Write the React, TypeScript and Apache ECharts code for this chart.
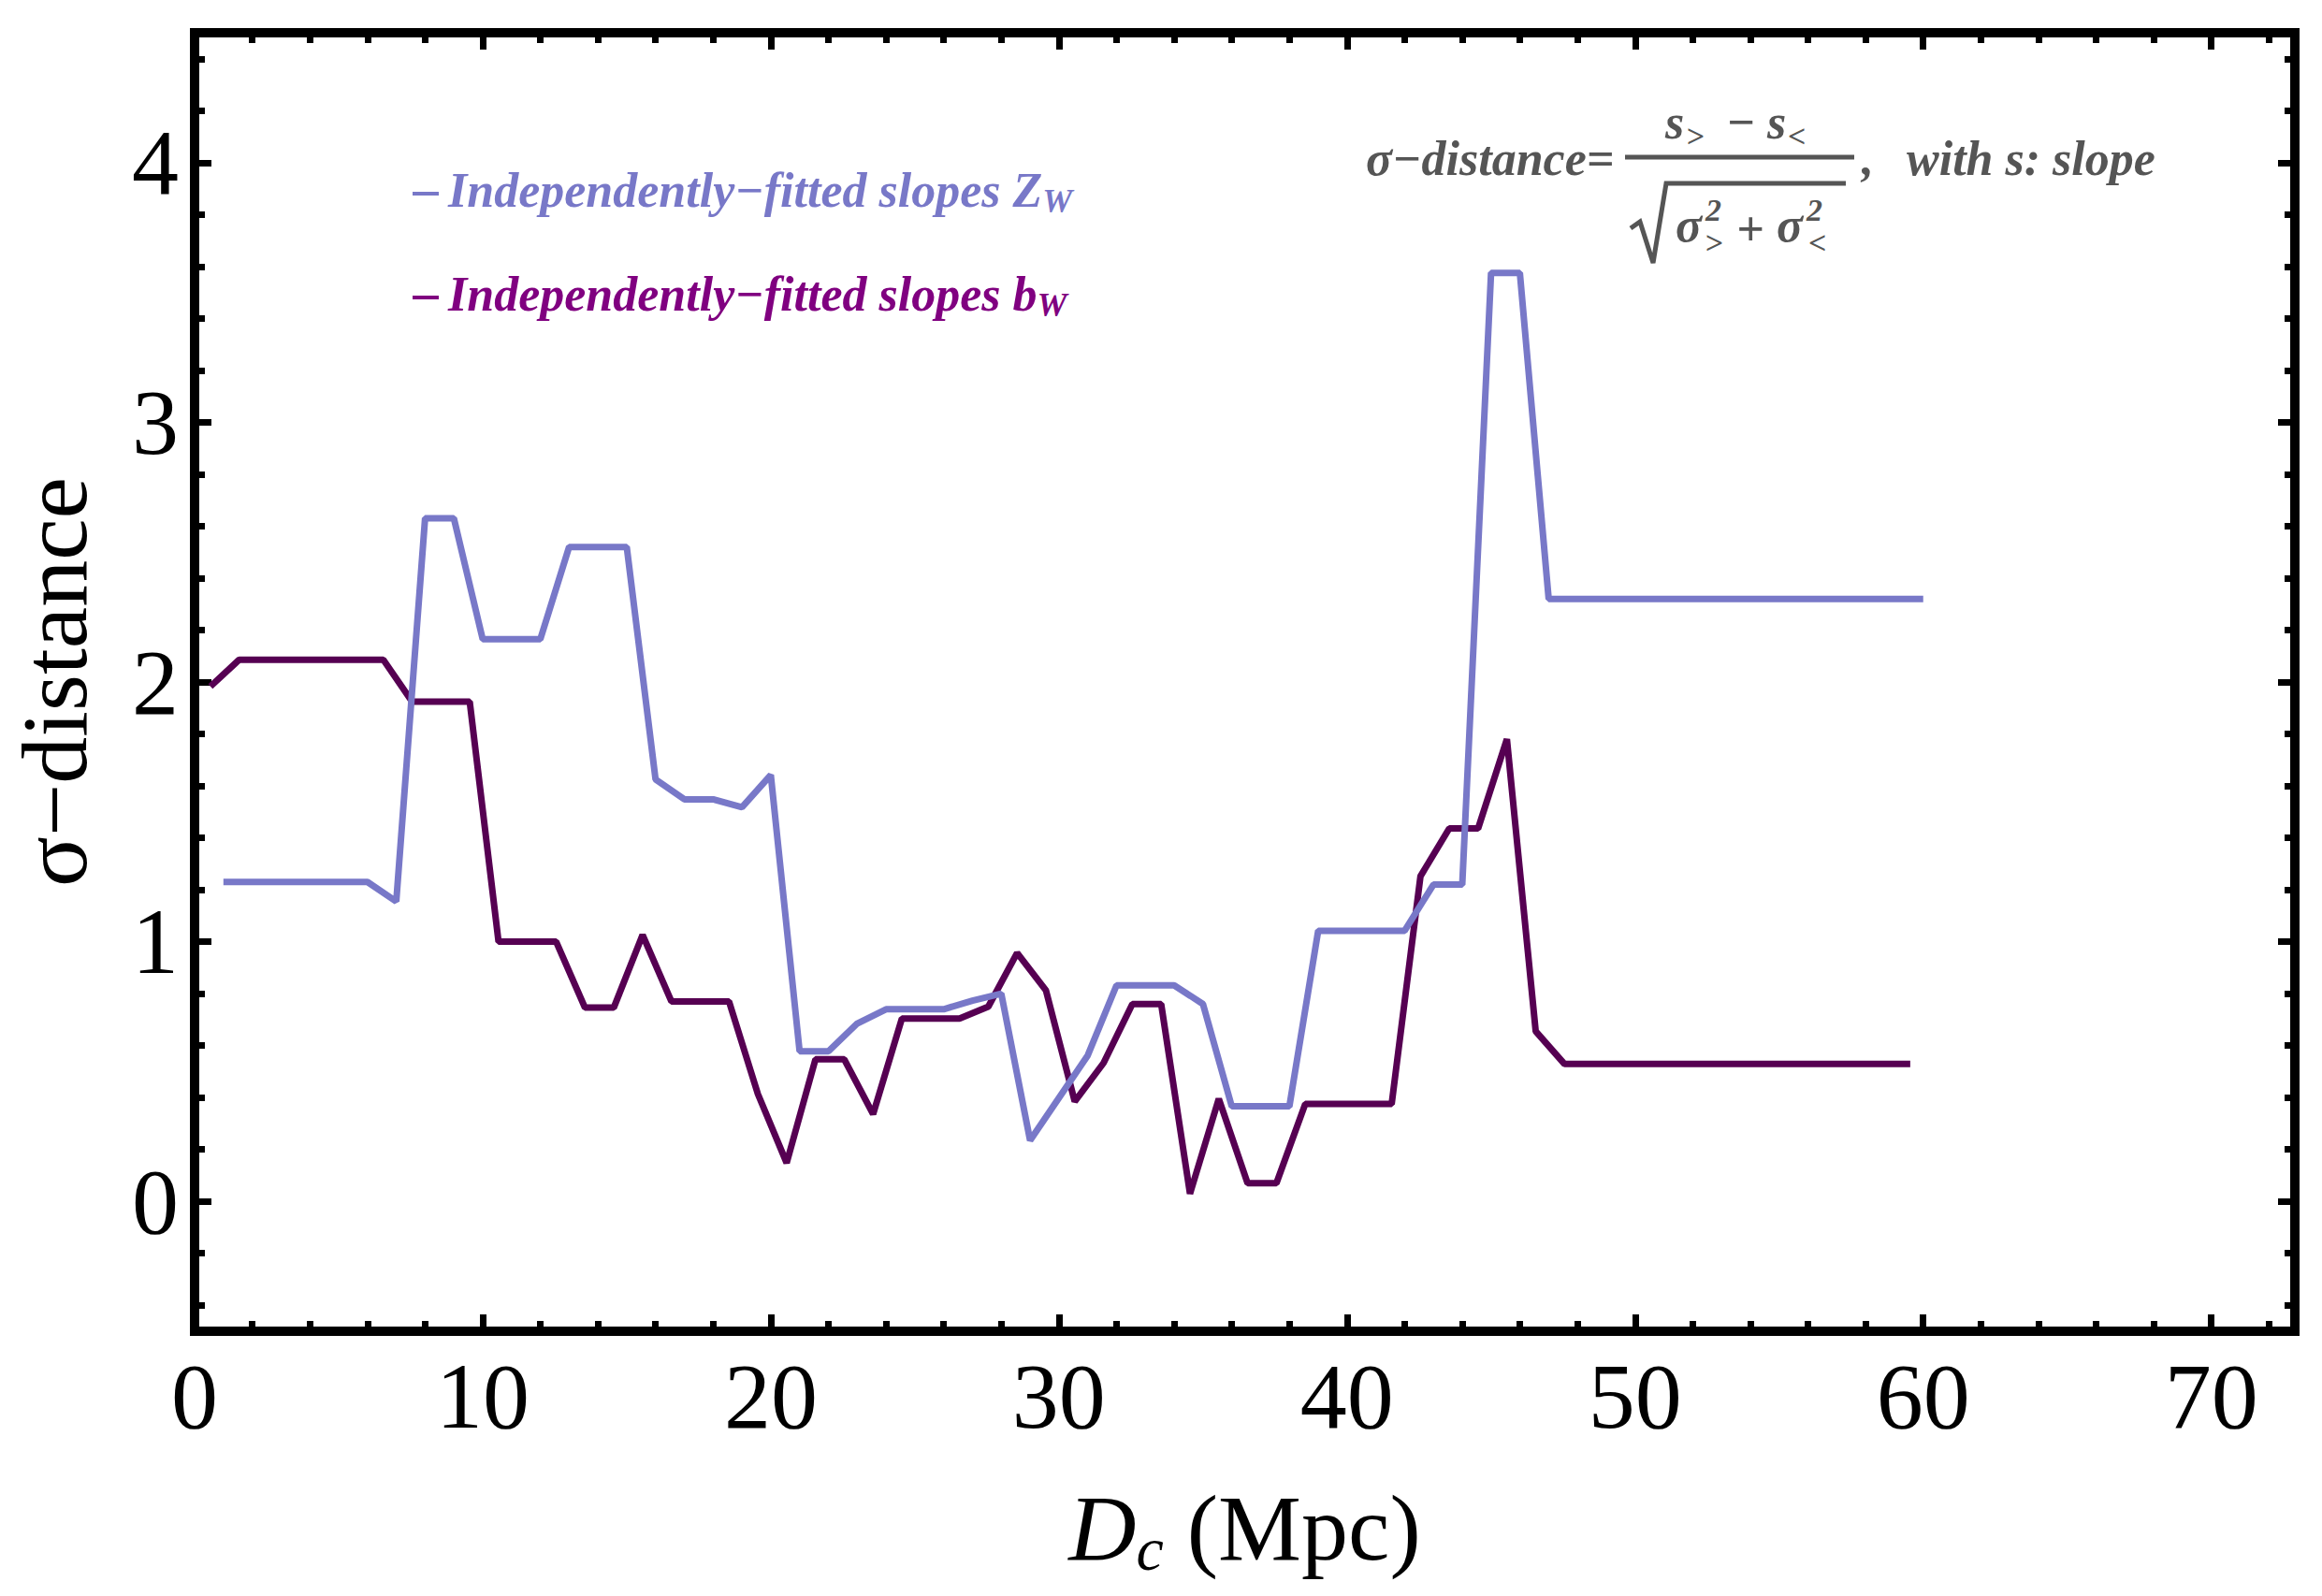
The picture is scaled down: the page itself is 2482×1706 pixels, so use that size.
import React, { useEffect, useRef } from 'react';
import * as echarts from 'echarts';

// sigma-distance vs D_c
const zwX = [1, 6, 7, 8, 9, 10, 12, 13, 15, 16, 17, 18, 19, 20, 21, 22, 23, 24, 26, 27, 28, 29, 31, 32, 34, 35, 36, 38, 39, 42, 43, 44, 45, 46, 47, 60];
const zwY = [1.23, 1.23, 1.155, 2.63, 2.63, 2.165, 2.165, 2.52, 2.52, 1.625, 1.548, 1.548, 1.518, 1.642, 0.578, 0.578, 0.685, 0.74, 0.74, 0.773, 0.8, 0.235, 0.562, 0.832, 0.832, 0.76, 0.366, 0.366, 1.042, 1.042, 1.22, 1.22, 3.575, 3.575, 2.32, 2.32];

const bwX = [0.55, 1.55, 6.55, 7.55, 9.55, 10.55, 12.55, 13.55, 14.55, 15.55, 16.55, 18.55, 19.55, 20.55, 21.55, 22.55, 23.55, 24.55, 26.55, 27.55, 28.55, 29.55, 30.55, 31.55, 32.55, 33.55, 34.55, 35.55, 36.55, 37.55, 38.55, 41.55, 42.55, 43.55, 44.55, 45.55, 46.55, 47.55, 59.55];
const bwY = [1.983, 2.086, 2.086, 1.924, 1.924, 1.0, 1.0, 0.746, 0.746, 1.026, 0.77, 0.77, 0.414, 0.148, 0.547, 0.547, 0.336, 0.704, 0.704, 0.75, 0.957, 0.813, 0.385, 0.533, 0.76, 0.76, 0.03, 0.395, 0.07, 0.07, 0.375, 0.375, 1.252, 1.436, 1.436, 1.78, 0.655, 0.529, 0.529];

const xMajor = [0, 10, 20, 30, 40, 50, 60, 70];
const xMinor = [2, 4, 6, 8, 12, 14, 16, 18, 22, 24, 26, 28, 32, 34, 36, 38, 42, 44, 46, 48, 52, 54, 56, 58, 62, 64, 66, 68, 72];
const yMajor = [0, 1, 2, 3, 4];
const yMinor = [-0.4, -0.2, 0.2, 0.4, 0.6, 0.8, 1.2, 1.4, 1.6, 1.8, 2.2, 2.4, 2.6, 2.8, 3.2, 3.4, 3.6, 3.8, 4.2, 4.4];

const ZW_NAME = 'Independently−fitted slopes Z_W';
const BW_NAME = 'Independently−fitted slopes b_W';

const SERIF = "'Liberation Serif', 'Times New Roman', serif";
const GRAY = '#555555';
const BLUE = '#7878c8';
const PURPLE_LINE = '#560052';
const PURPLE_TEXT = '#800080';

// one axis that only draws a set of inward ticks (plus labels for the major set)
const tickAxis = (
  position: string,
  min: number,
  max: number,
  ticks: number[],
  length: number,
  labels: boolean,
) => ({
  type: 'value',
  position,
  min,
  max,
  axisLine: { show: false, onZero: false },
  splitLine: { show: false },
  axisTick: {
    show: true,
    inside: true,
    length,
    customValues: ticks,
    lineStyle: { color: '#000', width: 7 },
  },
  axisLabel: labels
    ? {
        show: true,
        customValues: ticks,
        margin: position === 'bottom' ? 19 : 17,
        color: '#000',
        fontFamily: SERIF,
        fontSize: 100,
      }
    : { show: false },
});

// small helper for the formula in the upper right
const fText = (text: string, x: number, base: number, size: number) => ({
  type: 'text',
  x,
  y: base - 0.34 * size,
  style: {
    text,
    fill: GRAY,
    font: `italic bold ${size}px ${SERIF}`,
    align: 'left',
    verticalAlign: 'middle',
  },
});

const SigmaDistanceChart: React.FC = () => {
  const chartRef = useRef<HTMLDivElement | null>(null);

  useEffect(() => {
    if (!chartRef.current) return;
    const chart = echarts.init(chartRef.current, undefined, { renderer: 'svg' });

    const xLo = 0;
    const xHi = 72.9;
    const yLo = -0.5;
    const yHi = 4.5;

    const xBottom: any = tickAxis('bottom', xLo, xHi, xMajor, 18, true);
    xBottom.name = '{i|D}{sub|c} (Mpc)';
    xBottom.nameLocation = 'middle';
    xBottom.nameGap = 155;
    xBottom.nameTextStyle = {
      color: '#000',
      fontFamily: SERIF,
      fontSize: 100,
      lineHeight: 110,
      rich: {
        i: { fontFamily: SERIF, fontStyle: 'italic', fontSize: 100, lineHeight: 110, color: '#000' },
        sub: { fontFamily: SERIF, fontStyle: 'italic', fontSize: 66, lineHeight: 42, verticalAlign: 'bottom', color: '#000' },
      },
    };

    const yLeft: any = tickAxis('left', yLo, yHi, yMajor, 18, true);
    yLeft.name = 'σ−distance';
    yLeft.nameLocation = 'middle';
    yLeft.nameGap = 100;
    yLeft.nameTextStyle = { color: '#000', fontFamily: SERIF, fontSize: 100, lineHeight: 100 };

    const labelOf: Record<string, string> = {
      [ZW_NAME]: '{t|Independently−fitted slopes }{v|Z}{s|W}',
      [BW_NAME]: '{t|Independently−fitted slopes }{v|b}{s|W}',
    };

    const option = {
      animation: false,
      backgroundColor: '#fff',
      grid: {
        show: true,
        left: 208,
        right: 29,
        top: 35,
        bottom: 283,
        borderColor: '#000',
        borderWidth: 10,
        backgroundColor: 'transparent',
        containLabel: false,
        outerBoundsMode: 'none',
      },
      legend: {
        orient: 'vertical',
        left: 441,
        top: 173,
        padding: 0,
        itemGap: 43,
        icon: 'rect',
        itemWidth: 28,
        itemHeight: 4,
        selectedMode: false,
        data: [
          { name: ZW_NAME, itemStyle: { color: BLUE }, textStyle: { color: BLUE } },
          { name: BW_NAME, itemStyle: { color: PURPLE_TEXT }, textStyle: { color: PURPLE_TEXT } },
        ],
        formatter: (name: string) => labelOf[name] || name,
        textStyle: {
          fontFamily: SERIF,
          fontSize: 52,
          fontWeight: 'bold',
          fontStyle: 'italic',
          lineHeight: 60,
          padding: [0, 0, 8, 5],
          rich: {
            t: { fontFamily: SERIF, fontSize: 52, fontWeight: 'bold', fontStyle: 'italic', lineHeight: 60 },
            v: { fontFamily: SERIF, fontSize: 52, fontWeight: 'bold', fontStyle: 'italic', lineHeight: 60 },
            s: { fontFamily: SERIF, fontSize: 36, fontWeight: 'bold', fontStyle: 'italic', lineHeight: 28, verticalAlign: 'bottom' },
          },
        },
      },
      xAxis: [
        xBottom,
        tickAxis('bottom', xLo, xHi, xMinor, 11, false),
        tickAxis('top', xLo, xHi, xMajor, 18, false),
        tickAxis('top', xLo, xHi, xMinor, 11, false),
      ],
      yAxis: [
        yLeft,
        tickAxis('left', yLo, yHi, yMinor, 11, false),
        tickAxis('right', yLo, yHi, yMajor, 18, false),
        tickAxis('right', yLo, yHi, yMinor, 11, false),
      ],
      series: [
        {
          name: BW_NAME,
          type: 'line',
          xAxisIndex: 0,
          yAxisIndex: 0,
          data: bwX.map((x, i) => [x, bwY[i]]),
          symbol: 'none',
          showSymbol: false,
          lineStyle: { color: PURPLE_LINE, width: 7 },
          itemStyle: { color: PURPLE_LINE },
        },
        {
          name: ZW_NAME,
          type: 'line',
          xAxisIndex: 0,
          yAxisIndex: 0,
          data: zwX.map((x, i) => [x, zwY[i]]),
          symbol: 'none',
          showSymbol: false,
          lineStyle: { color: BLUE, width: 7 },
          itemStyle: { color: BLUE },
        },
      ],
      graphic: [
        fText('σ−distance=', 1460, 187, 52),
        { type: 'line', shape: { x1: 1737, y1: 168, x2: 1982, y2: 168 }, style: { stroke: GRAY, lineWidth: 5 } },
        // numerator
        fText('s', 1780, 148, 52),
        fText('>', 1802, 157, 34),
        fText('−', 1845, 148, 52),
        fText('s', 1889, 148, 52),
        fText('<', 1911, 157, 34),
        // radical and denominator
        {
          type: 'polyline',
          shape: { points: [[1743, 244], [1753, 237], [1767, 281], [1781, 196], [1973, 196]] },
          style: { stroke: GRAY, lineWidth: 5, fill: 'none', lineJoin: 'miter' },
        },
        fText('σ', 1791, 258, 52),
        fText('2', 1823, 236, 34),
        fText('>', 1822, 271, 34),
        fText('+', 1856, 262, 52),
        fText('σ', 1899, 258, 52),
        fText('2', 1931, 236, 34),
        fText('<', 1933, 271, 34),
        // trailing note
        fText(',', 1990, 187, 52),
        fText('with s: slope', 2038, 187, 52),
      ],
    };

    chart.setOption(option);

    return () => {
      chart.dispose();
    };
  }, []);

  return (
    <div
      ref={chartRef}
      style={{ position: 'absolute', left: 0, top: 0, width: '2482px', height: '1706px', margin: 0 }}
    />
  );
};

export default function App() {
  return <SigmaDistanceChart />;
}
